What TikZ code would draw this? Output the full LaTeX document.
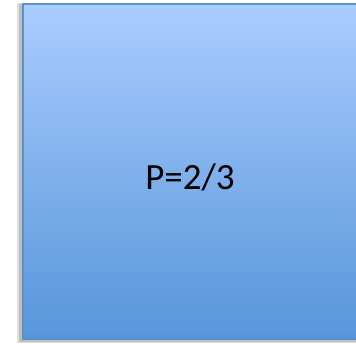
\documentclass[tikz,border=0pt]{standalone}
\usepackage{fontspec}
\setmainfont{Carlito}
\definecolor{topblue}{HTML}{AACDFE}
\definecolor{botblue}{HTML}{5795DA}
\definecolor{edgeblue}{HTML}{5B8FCB}
\tikzset{
  panel/.style={draw=edgeblue, line width=2pt, top color=topblue, bottom color=botblue},
  label/.style={font=\fontsize{37}{44}\selectfont, text=black}
}
\begin{document}
\begin{tikzpicture}[x=1pt,y=1pt]
\useasboundingbox (0,0) rectangle (356,344);
\fill[black!12] (17,1) rectangle (362,341);
\fill[black!25] (19,2) rectangle (362,340);
\node[panel, minimum width=340pt, minimum height=335pt, inner sep=0pt, anchor=north west] (box) at (21.5,340.5) {};
\node[label] (p) at (190,167) {P=2/3};
\end{tikzpicture}
\end{document}
